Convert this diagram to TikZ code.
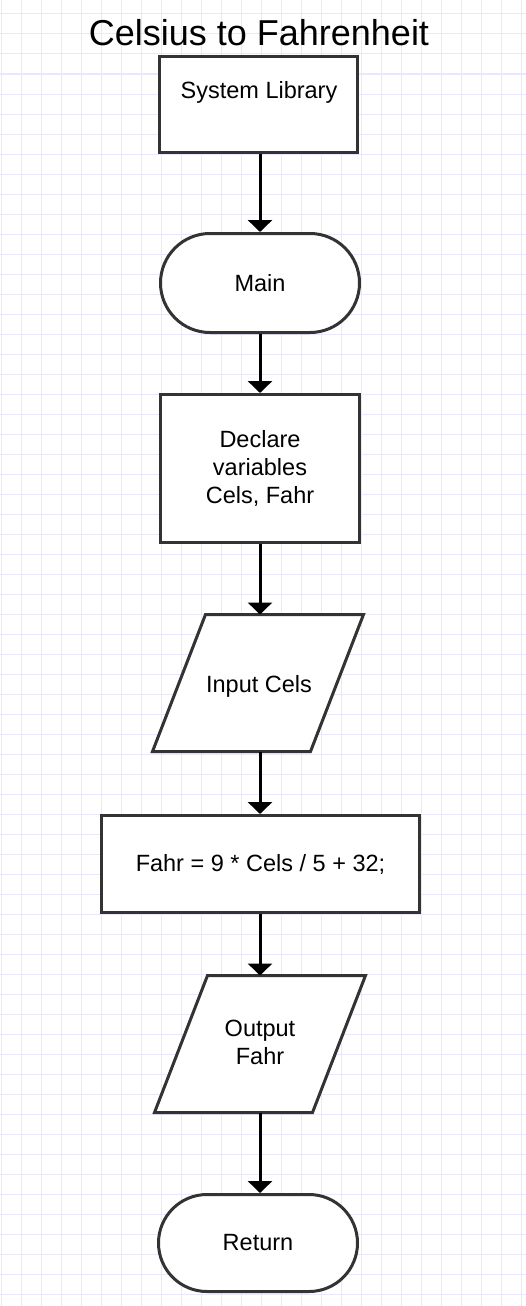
\documentclass[tikz,border=0pt]{standalone}
\usepackage{fontspec}
\setmainfont{Liberation Sans}
\usetikzlibrary{arrows.meta,shapes.misc}
\definecolor{gridc}{RGB}{232,232,252}
\definecolor{edgec}{RGB}{51,51,51}
\begin{document}
\begin{tikzpicture}[x=1pt,y=-1pt,
  box/.style={draw=edgec,line width=3pt,fill=white,inner sep=0pt,
    font=\fontsize{23.5}{28}\selectfont,align=center},
  procbox/.style={box,rectangle},
  term/.style={box,rounded rectangle,rounded rectangle arc length=180},
  ghost/.style={rectangle,inner sep=0pt,outer sep=0pt},
  para/.style={draw=edgec,line width=3pt,fill=white,line join=miter},
  txt/.style={font=\fontsize{23.5}{28}\selectfont,align=center,inner sep=0pt},
  flow/.style={draw=black,line width=3pt,-{Triangle[width=24pt,length=12pt]}}]
\fill[white] (0,0) rectangle (526,1306);
\useasboundingbox (0,0) rectangle (526,1306);
\foreach \i in {0,...,26} \draw[gridc,line width=1pt] (1+20*\i,0) -- (1+20*\i,1306);
\foreach \j in {0,...,64} \draw[gridc,line width=1pt] (0,14+20*\j) -- (526,14+20*\j);

\node[font=\fontsize{36}{40}\selectfont,anchor=base,inner sep=0pt] (title) at (259,46) {Celsius to Fahrenheit};

\node[procbox,minimum width=198pt,minimum height=96.5pt] (sys) at (258.7,104.5) {};
\node[txt,anchor=base] (systxt) at (259,98) {System Library};

\node[term,minimum width=199pt,minimum height=99pt] (main) at (260,283) {Main};

\node[procbox,minimum width=199pt,minimum height=148pt] (decl) at (260,468.5) {Declare\\variables\\Cels, Fahr};

\node[ghost,minimum width=211pt,minimum height=137pt] (inp) at (258,683) {};
\draw[para] ([xshift=53pt]inp.north west) -- (inp.north east) -- ([xshift=-53pt]inp.south east) -- (inp.south west) -- cycle;
\node[txt,anchor=base] (inptxt) at (259,692) {Input Cels};

\node[procbox,minimum width=318pt,minimum height=97pt] (calc) at (260.5,864) {Fahr = 9 * Cels / 5 + 32;};

\node[ghost,minimum width=211pt,minimum height=137pt] (outp) at (260,1044) {};
\draw[para] ([xshift=53pt]outp.north west) -- (outp.north east) -- ([xshift=-53pt]outp.south east) -- (outp.south west) -- cycle;
\node[txt] (outtxt) at (260,1042.5) {Output\\Fahr};

\node[term,minimum width=199pt,minimum height=97pt] (ret) at (258,1243) {Return};

\draw[flow] (main.north |- sys.south) -- (main.north);
\draw[flow] (main.south) -- (main.south |- decl.north);
\draw[flow] (decl.south) -- (decl.south |- inp.north);
\draw[flow] (decl.south |- inp.south) -- (decl.south |- calc.north);
\draw[flow] (decl.south |- calc.south) -- (decl.south |- outp.north);
\draw[flow] (decl.south |- outp.south) -- (decl.south |- ret.north);
\end{tikzpicture}
\end{document}
